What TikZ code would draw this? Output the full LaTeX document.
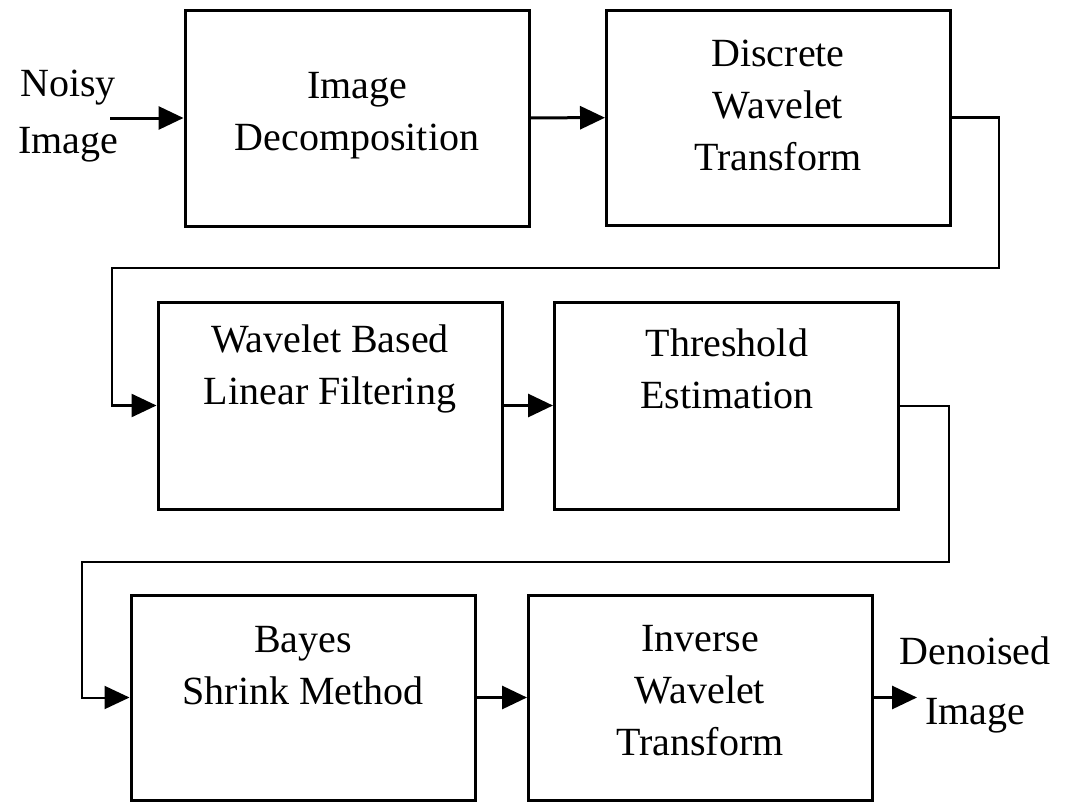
\documentclass[tikz,border=0pt]{standalone}
\usepackage{fontspec}
\setmainfont{Liberation Serif}
\usetikzlibrary{arrows.meta}
\begin{document}
\begin{tikzpicture}[x=1pt,y=-1pt,
  blk/.style={draw,line width=3pt,minimum width=344pt,inner sep=0pt},
  lbl/.style={align=center,inner sep=0pt,font=\fontsize{40}{52}\selectfont},
  arr/.style={line width=3pt,-{Triangle[length=25pt,width=23pt]}}]
\useasboundingbox (0,0) rectangle (1074,803);
% blocks
\node[blk,minimum height=216pt] (dec) at (357,118) {};
\node[blk,minimum height=215pt] (dwt) at (778.5,117.5) {};
\node[blk,minimum height=207pt] (filt) at (330,405.5) {};
\node[blk,minimum height=207pt] (thr) at (726.5,405.5) {};
\node[blk,minimum height=205pt] (bay) at (303,697.5) {};
\node[blk,minimum height=205pt] (iwt) at (700.5,697.5) {};
% texts
\node[lbl] (tdec) at (357,116) {Image\\Decomposition};
\node[lbl] (tdwt) at (778,105) {Discrete\\Wavelet\\Transform};
\node[lbl] (tfilt) at (330,369) {Wavelet Based\\Linear Filtering};
\node[lbl] (tthr) at (727,369) {Threshold\\Estimation};
\node[lbl] (tbay) at (303,666) {Bayes\\Shrink Method};
\node[lbl] (tiwt) at (700,691) {Inverse\\Wavelet\\Transform};
\node[lbl,font=\fontsize{40}{57}\selectfont] (noisy) at (68,116) {Noisy\\Image};
\node[lbl,font=\fontsize{40}{60}\selectfont] (denoised) at (975,685) {Denoised\\Image};
% connectors
\coordinate (in) at (110,118);
\coordinate (k1) at (999,268);
\coordinate (k2) at (112,268);
\coordinate (k3) at (949,562);
\coordinate (k4) at (82,562);
\coordinate (out) at (917,697.5);
\draw[arr] (in) -- (dec.west);
\draw[arr] (dec) -- (dwt);
\draw[arr,line width=2.5pt] (dwt.east) -| (k1) -- (k2) |- (filt.west);
\draw[arr] (filt) -- (thr);
\draw[arr,line width=2pt] (thr.east) -| (k3) -- (k4) |- (bay.west);
\draw[arr] (bay) -- (iwt);
\draw[arr] (iwt.east) -- (out);
\end{tikzpicture}
\end{document}
